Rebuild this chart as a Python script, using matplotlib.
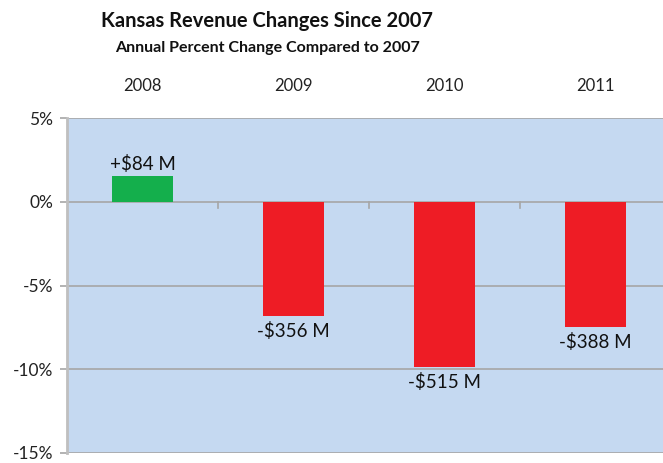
import matplotlib.pyplot as plt
import numpy as np

# Kansas revenue change vs 2007
years = ["2008", "2009", "2010", "2011"]
pct_change = [1.55, -6.83, -9.86, -7.48]
labels = ["+$84 M", "-$356 M", "-$515 M", "-$388 M"]
y_ticks = [5, 0, -5, -10, -15]

plt.rcParams['font.family'] = ['Lato', 'DejaVu Sans']

fig = plt.figure(figsize=(6.63, 4.63), dpi=100)
ax = fig.add_axes([0.101, 0.0216, 0.911, 0.7235])
ax.set_facecolor('#C5D9F1')

x = np.arange(len(years))
colors = ['#14AF4C' if v > 0 else '#EE1C25' for v in pct_change]
ax.bar(x, pct_change, width=0.4, color=colors, zorder=3)

ax.set_xlim(-0.5, len(years) - 0.5)
ax.set_ylim(-15, 5)
ax.set_yticks(y_ticks)
ax.set_yticklabels([f"{t}%" for t in y_ticks], fontsize=12.5, color='#222222')
ax.yaxis.grid(True, color='#A6A6A6', lw=1.2, zorder=1)

ax.xaxis.tick_top()
ax.set_xticks(x)
ax.set_xticklabels(years, fontsize=12, color='#222222')
ax.tick_params(axis='x', length=0, pad=17)
ax.tick_params(axis='y', length=5, color='#A6A6A6', width=1.2, pad=5)

for s in ['top', 'right', 'bottom']:
    ax.spines[s].set_visible(False)
ax.spines['left'].set_color('#BFBFBF')
ax.spines['left'].set_linewidth(2)

# small category tick marks on the zero line
for b in x[:-1] + 0.5:
    ax.plot([b, b], [0, -0.35], color='#A6A6A6', lw=1.2, zorder=2)

for xi, v, lab in zip(x, pct_change, labels):
    if v > 0:
        ax.text(xi, v + 0.15, lab, ha='center', va='bottom', fontsize=13.5, color='#111111', zorder=4)
    else:
        ax.text(xi, v - 0.35, lab, ha='center', va='top', fontsize=13.5, color='#111111', zorder=4)

fig.text(0.403, 0.955, "Kansas Revenue Changes Since 2007", ha='center', va='center',
         fontsize=14.5, fontweight='bold', color='#111111')
fig.text(0.403, 0.896, "Annual Percent Change Compared to 2007", ha='center', va='center',
         fontsize=11.5, fontweight='bold', color='#111111')

fig.savefig("out.png", dpi=100)
